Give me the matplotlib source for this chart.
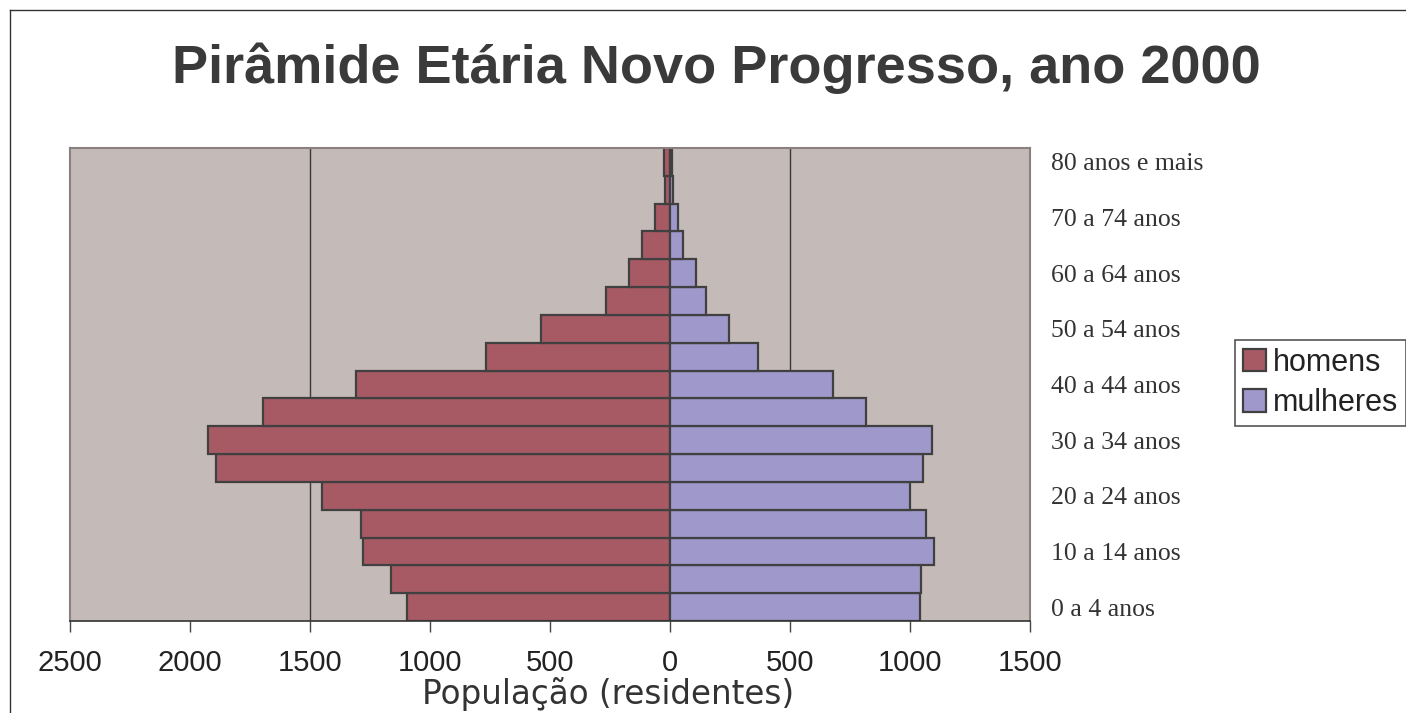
import numpy as np
import matplotlib
matplotlib.use("Agg")
import matplotlib.pyplot as plt
from matplotlib.lines import Line2D

# age groups, bottom to top
AGE_GROUPS = ["0 a 4 anos", "5 a 9 anos", "10 a 14 anos", "15 a 19 anos",
              "20 a 24 anos", "25 a 29 anos", "30 a 34 anos", "35 a 39 anos",
              "40 a 44 anos", "45 a 49 anos", "50 a 54 anos", "55 a 59 anos",
              "60 a 64 anos", "65 a 69 anos", "70 a 74 anos", "75 a 79 anos",
              "80 anos e mais"]
HOMENS = [1096, 1162, 1280, 1286, 1448, 1890, 1926, 1695, 1308, 765, 538,
          266, 170, 116, 63, 19, 23]
MULHERES = [1041, 1047, 1102, 1067, 1002, 1055, 1090, 815, 680, 365, 245,
            152, 108, 53, 34, 13, 9]
X_TICKS = [-2500, -2000, -1500, -1000, -500, 0, 500, 1000, 1500]

C_MEN = "#A85A64"
C_WOMEN = "#9E98CB"
C_BG = "#C4BAB8"
C_EDGE = "#404040"

fig = plt.figure(figsize=(14.06, 7.13), dpi=100)
ax = fig.add_axes([70 / 1406, 92 / 713, 960 / 1406, 473 / 713])
ax.set_facecolor(C_BG)

y = np.arange(len(AGE_GROUPS))
for g in (-1500, 500):
    ax.axvline(g, color="#3a3a3a", lw=1.0, zorder=1)
ax.barh(y, -np.array(HOMENS), height=1.0, color=C_MEN, edgecolor=C_EDGE,
        linewidth=1.6, label="homens", zorder=2)
ax.barh(y, MULHERES, height=1.0, color=C_WOMEN, edgecolor=C_EDGE,
        linewidth=1.6, label="mulheres", zorder=2)

ax.set_xlim(-2500, 1500)
ax.set_ylim(-0.5, len(AGE_GROUPS) - 0.5)
ax.set_xticks(X_TICKS)
ax.set_xticklabels([str(abs(v)) for v in X_TICKS], fontsize=21,
                   family="Liberation Sans", color="#222222")
ax.tick_params(axis="x", direction="out", length=8, width=1, color="#444444", pad=12)

ax.yaxis.tick_right()
ax.set_yticks(y[::2])
ax.set_yticklabels(AGE_GROUPS[::2], fontsize=18.5, family="Liberation Serif",
                   color="#333333")
ax.tick_params(axis="y", length=0, pad=15)

for s in ("top", "left", "right"):
    ax.spines[s].set_color("#8a8080")
    ax.spines[s].set_linewidth(1.5)
ax.spines["bottom"].set_color("#333333")
ax.spines["bottom"].set_linewidth(1.2)

fig.text(608 / 1406, 1 - 694 / 713, "População (residentes)", ha="center",
         va="center", fontsize=23.5, family="DejaVu Sans", color="#333333")

fig.text(716 / 1406, 1 - 68 / 713, "Pirâmide Etária Novo Progresso, ano 2000",
         ha="center", va="center", fontsize=39, fontweight="bold",
         family="Liberation Sans", color="#3a3a3a")

leg = ax.legend(loc="upper left", bbox_to_anchor=(1235 / 1406, 1 - 340 / 713),
                bbox_transform=fig.transFigure, fontsize=22, frameon=True,
                fancybox=False, edgecolor="#555555", framealpha=1,
                handlelength=0.75, handleheight=0.75, handletextpad=0.25,
                borderpad=0.25, labelspacing=0.35, borderaxespad=0)
leg.get_frame().set_linewidth(1.2)
for t in leg.get_texts():
    t.set_family("Liberation Sans")
    t.set_color("#222222")

# outer frame of the chart
fig.add_artist(Line2D([10 / 1406, 10 / 1406], [0, 1 - 10 / 713],
                      transform=fig.transFigure, color="#333333", lw=1))
fig.add_artist(Line2D([10 / 1406, 1], [1 - 10 / 713, 1 - 10 / 713],
                      transform=fig.transFigure, color="#333333", lw=1))

fig.savefig("out.png", dpi=100)
